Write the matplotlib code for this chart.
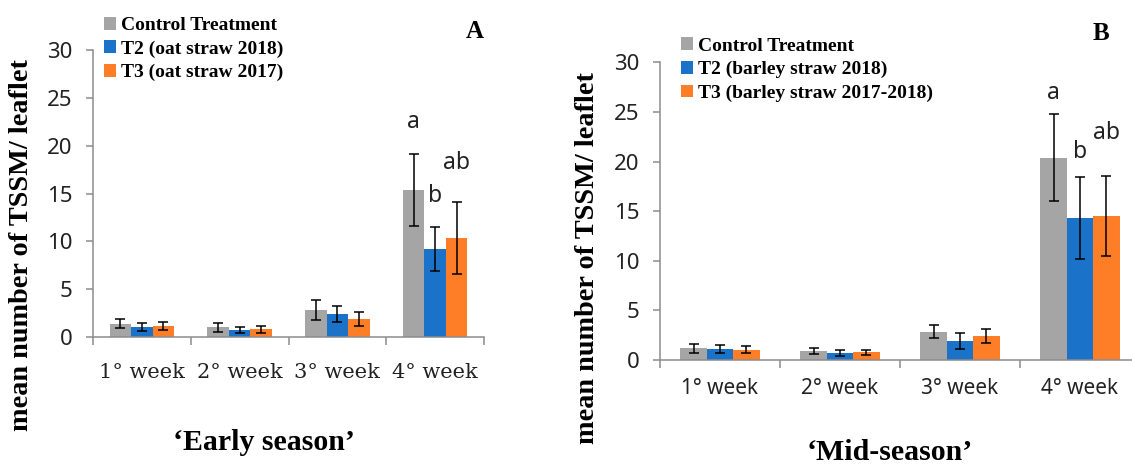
import matplotlib
matplotlib.use('Agg')
import matplotlib.pyplot as plt
import numpy as np

weeks = ['1° week', '2° week', '3° week', '4° week']
labels_a = ['Control Treatment', 'T2 (oat straw 2018)', 'T3 (oat straw 2017)']
labels_b = ['Control Treatment', 'T2 (barley straw 2018)', 'T3 (barley straw 2017-2018)']

# panel A - early season
a_control = [1.4, 1.0, 2.85, 15.4]
a_control_err = [0.5, 0.45, 1.05, 3.75]
a_t2 = [1.05, 0.75, 2.4, 9.2]
a_t2_err = [0.45, 0.33, 0.85, 2.35]
a_t3 = [1.1, 0.8, 1.9, 10.35]
a_t3_err = [0.42, 0.4, 0.7, 3.8]

# panel B - mid season
b_control = [1.2, 0.9, 2.83, 20.4]
b_control_err = [0.45, 0.27, 0.65, 4.4]
b_t2 = [1.07, 0.72, 1.95, 14.3]
b_t2_err = [0.4, 0.32, 0.8, 4.1]
b_t3 = [1.04, 0.77, 2.4, 14.5]
b_t3_err = [0.33, 0.27, 0.7, 4.0]

# significance letters on 4th week
letters = ['a', 'b', 'ab']
a_letter_y = [22.5, 14.7, 18.2]
b_letter_y = [26.9, 21.0, 22.85]

colors = ['#A5A5A5', '#1A72C9', '#FD7E26']
axis_col = '#8C8C8C'
serif = 'Liberation Serif'
sans = 'Noto Sans'


def draw_panel(ax, means, errs, letter_y, labels, tick_family, xpad, legend_xy):
    x = np.arange(len(weeks))
    w = 0.22
    offs = [-w, 0, w]
    handles = []
    for i in range(3):
        b = ax.bar(x + offs[i], means[i], w, color=colors[i], label=labels[i],
                   yerr=errs[i], capsize=3.5,
                   error_kw=dict(ecolor='black', elinewidth=1.1, capthick=1.1))
        handles.append(b)
        ax.text(3 + offs[i], letter_y[i], letters[i], ha='center', va='center',
                fontsize=16.5, family=sans, color='#222222')

    ax.set_xlim(-0.5, 3.5)
    ax.set_ylim(0, 30)
    for s in ['top', 'right']:
        ax.spines[s].set_visible(False)
    for s in ['left', 'bottom']:
        ax.spines[s].set_color(axis_col)
        ax.spines[s].set_linewidth(1.1)

    ax.set_yticks(range(0, 31, 5))
    ax.tick_params(axis='y', direction='out', length=5, width=1.1,
                   color=axis_col, pad=10, labelsize=16)
    for t in ax.get_yticklabels():
        t.set_family(sans)
        t.set_color('#222222')

    ax.set_xticks(x)
    ax.set_xticklabels(weeks, family=tick_family, fontsize=15, color='#222222')
    ax.set_xticks(np.arange(-0.5, 4, 1), minor=True)
    ax.tick_params(axis='x', which='major', length=0, pad=xpad)
    ax.tick_params(axis='x', which='minor', direction='out', length=5.8,
                   width=1.1, color=axis_col)

    fig.legend(handles=handles, loc='upper left', bbox_to_anchor=legend_xy,
               frameon=False, borderpad=0, borderaxespad=0,
               handlelength=0.62, handleheight=0.62, handletextpad=0.25,
               labelspacing=0.32,
               prop=dict(family=serif, weight='bold', size=14))


fig = plt.figure(figsize=(11.32, 4.68), dpi=100)
W, H = 1132, 468

ax_a = fig.add_axes([93 / W, (H - 337) / H, (484 - 93) / W, (337 - 50) / H])
ax_b = fig.add_axes([660 / W, (H - 360) / H, (1140 - 660) / W, (360 - 62.3) / H])

draw_panel(ax_a, [a_control, a_t2, a_t3], [a_control_err, a_t2_err, a_t3_err],
           a_letter_y, labels_a, 'DejaVu Serif', 19, (104 / W, 1 - 17 / H))
draw_panel(ax_b, [b_control, b_t2, b_t3], [b_control_err, b_t2_err, b_t3_err],
           b_letter_y, labels_b, sans, 13, (681 / W, 1 - 37.5 / H))

ylab = 'mean number of TSSM/ leaflet'
fig.text(22 / W, 1 - 245 / H, ylab, rotation=90, ha='center', va='center',
         family=serif, weight='bold', fontsize=20.3)
fig.text(587 / W, 1 - 258 / H, ylab, rotation=90, ha='center', va='center',
         family=serif, weight='bold', fontsize=20.3)

fig.text(474.5 / W, 1 - 31 / H, 'A', ha='center', va='center',
         family=serif, weight='bold', fontsize=18)
fig.text(1101 / W, 1 - 33 / H, 'B', ha='center', va='center',
         family=serif, weight='bold', fontsize=18)

fig.text(263.5 / W, 1 - 450 / H, '\u2018Early season\u2019', ha='center', va='baseline',
         family=serif, weight='bold', fontsize=21.5)
fig.text(889.5 / W, 1 - 460 / H, '\u2018Mid-season\u2019', ha='center', va='baseline',
         family=serif, weight='bold', fontsize=21.5)

fig.savefig('out.png', dpi=100)
